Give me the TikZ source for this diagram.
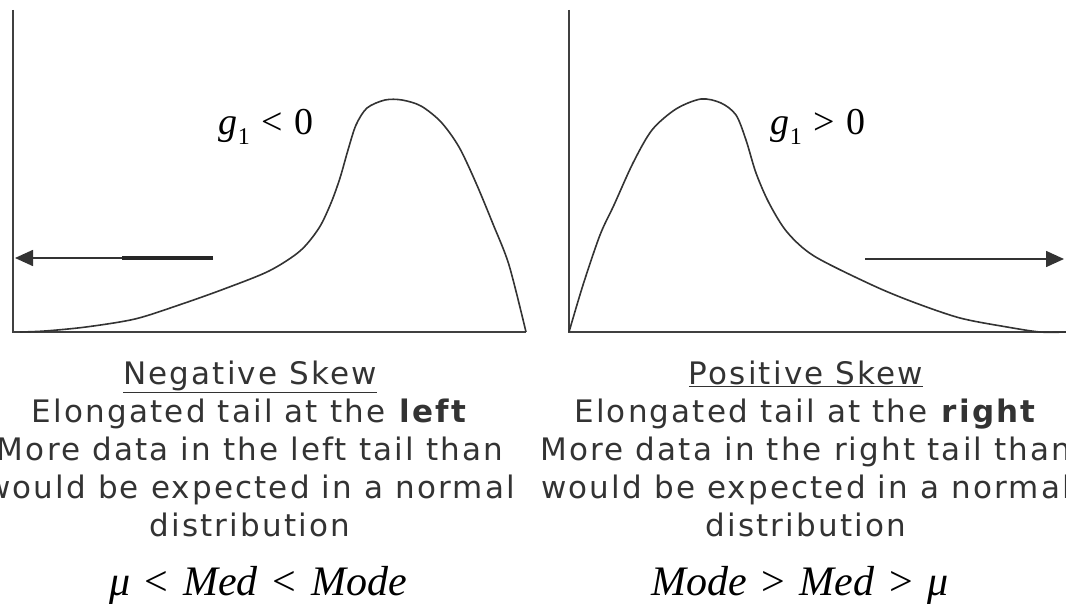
\documentclass[tikz,border=0pt]{standalone}
\usepackage{fontspec}
\setmainfont{DejaVu Sans}[LetterSpace=7]
\newfontfamily\tnr{Liberation Serif}
\usetikzlibrary{arrows.meta}

\tikzset{
  axis/.style={line width=2.2pt, draw=black!75},
  curve/.style={line width=1.6pt, draw=black!80},
  tailarrow/.style={line width=1.6pt, draw=black!80, -{Triangle[length=18pt,width=16pt]}},
  textblock/.style={align=center, inner sep=0pt, text=black!80,
    font=\fontsize{31}{38}\selectfont},
  skewlabel/.style={inner sep=0pt, font=\tnr\fontsize{38}{38}\selectfont},
  meanlabel/.style={inner sep=0pt, font=\tnr\itshape\fontsize{42}{42}\selectfont}
}
\newcommand{\gone}{\textit{g}\raisebox{-0.28em}{\fontsize{24}{24}\selectfont 1}}

\begin{document}
\begin{tikzpicture}[x=1pt,y=-1pt]
  \useasboundingbox (0,0) rectangle (1066,610);

  % negative skew
  \draw[axis] (13,10) |- (526,332);
  \draw[curve] plot[smooth, tension=0.5] coordinates {
    (20,332) (45,331) (86,327) (135,319) (179,305) (224,289) (269,271)
    (300,251) (319,228) (331,203) (340,178) (348,150) (356,125) (367,108)
    (385,100) (402,100) (421,106) (441,122) (459,147) (476,183) (493,224)
    (509,265) (526,332)};
  \coordinate (lfrom) at (213,258);
  \coordinate (lthick) at (122,258);
  \coordinate (lto) at (15,258);
  \draw[tailarrow] (lfrom) -- (lto);
  \draw[line width=3.6pt, draw=black!85] (lfrom) -- (lthick);
  \node[skewlabel] (gneg) at (266,127) {\gone\hspace{0.3em}<\hspace{0.3em}0};

  % positive skew
  \draw[axis] (569,10) |- (1066,332);
  \draw[curve] plot[smooth, tension=0.5] coordinates {
    (569,332) (583,285) (600,235) (614,205) (633,163) (652,130) (676,109)
    (701,99) (721,103) (736,115) (746,140) (756,173) (769,203) (787,232)
    (814,256) (872,285) (913,302) (960,318) (1007,327) (1040,332)
    (1066,332)};
  \coordinate (rfrom) at (865,259);
  \coordinate (rto) at (1064,259);
  \draw[tailarrow] (rfrom) -- (rto);
  \node[skewlabel] (gpos) at (818,127) {\gone\hspace{0.3em}>\hspace{0.3em}0};

  \node[textblock] (negtext) at (250,449) {\underline{Negative Skew}\\
    Elongated tail at the \textbf{left}\\
    More data in the left tail than\\
    would be expected in a normal\\
    distribution};
  \node[textblock] (postext) at (806,449) {\underline{Positive Skew}\\
    Elongated tail at the \textbf{right}\\
    More data in the right tail than\\
    would be expected in a normal\\
    distribution};

  \node[meanlabel] (negmean) at (258,585) {μ\hspace{0.35em}\textup{<}\hspace{0.35em}Med\hspace{0.35em}\textup{<}\hspace{0.35em}Mode};
  \node[meanlabel] (posmean) at (800,585) {Mode\hspace{0.35em}\textup{>}\hspace{0.35em}Med\hspace{0.35em}\textup{>}\hspace{0.35em}μ};
\end{tikzpicture}
\end{document}
